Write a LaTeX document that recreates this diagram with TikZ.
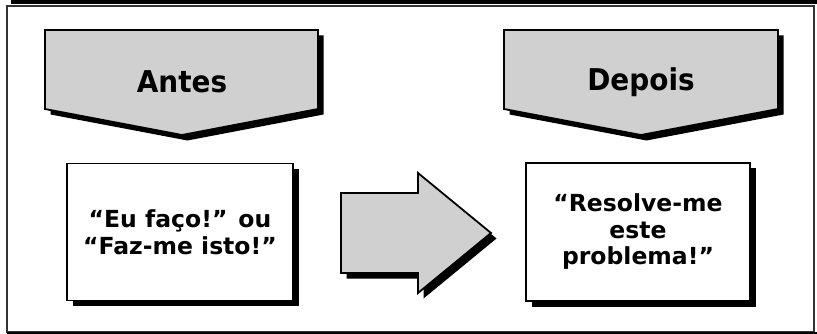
\documentclass[tikz,border=0pt]{standalone}
\usepackage{fontspec}
\setmainfont{DejaVu Sans}
\newfontfamily\narrowsans{DejaVu Sans}[FakeStretch=0.93]
\usepackage{tikz}
\usetikzlibrary{
  positioning,
  calc
}
\usepackage{xcolor}
\definecolor{panelgray}{HTML}{D0D0D0}
\definecolor{framegray}{HTML}{333333}
\tikzset{
  shadowed/.style={
    preaction={fill=black, transform canvas={shift={(5.5pt,-5.5pt)}}}
  },
  chevron/.style={
    draw=black, fill=panelgray, line width=1.8pt, line join=miter, shadowed
  },
  quotebox/.style={
    rectangle, draw=black, fill=white, line width=1.8pt, shadowed,
    minimum width=226pt, minimum height=137pt,
    font=\fontsize{23.5}{26.5}\selectfont\bfseries, align=center, inner sep=0pt
  },
}

\begin{document}
\begin{tikzpicture}[
  x=1pt, y=-1pt,
  title/.style={font=\narrowsans\fontsize{30}{34}\selectfont\bfseries, inner sep=0pt},
  bigarrow/.style={draw=black, fill=panelgray, line width=1.8pt, line join=miter, shadowed},
]
\useasboundingbox (0,0) rectangle (817,334);

% Frame
\draw[framegray, line width=1.6pt] (7,6) rectangle (814,332);
\fill[black] (11,0) rectangle (817,4.5);
\fill[black] (7,331.5) rectangle (817,334);

% Before
\draw[chevron] (45,30) -- (318,30) -- (318,109) -- (182,135) -- (45,109) -- cycle;
\node[title] (antes) at (182,82) {Antes};
\node[quotebox] (eufaco) at (180,232) {“Eu faço!” ou\\“Faz-me isto!”};

% After
\draw[chevron] (504,30) -- (778,30) -- (778,109) -- (641,135) -- (504,109) -- cycle;
\node[title] (depois) at (641,82) {Depois};
\node[quotebox, minimum width=224pt, minimum height=138pt] (resolve) at (638,232) {“Resolve-me\\este\\problema!”};

% Transition
\draw[bigarrow] (341,193) -- (418,193) -- (418,173) -- (491,233) -- (418,293) -- (418,273) -- (341,273) -- cycle;

\end{tikzpicture}
\end{document}
